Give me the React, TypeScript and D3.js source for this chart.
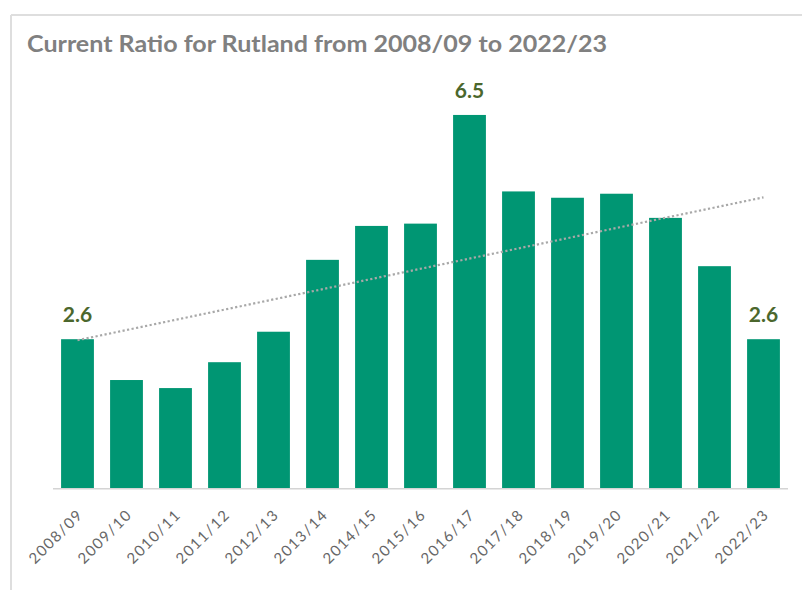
import React from "react";
import * as d3 from "d3";

// Financial years shown on the category axis
const years: string[] = [
  "2008/09", "2009/10", "2010/11", "2011/12", "2012/13",
  "2013/14", "2014/15", "2015/16", "2016/17", "2017/18",
  "2018/19", "2019/20", "2020/21", "2021/22", "2022/23",
];

// Current ratio per year
const ratios: number[] = [
  2.6, 1.89, 1.75, 2.2, 2.73,
  3.98, 4.57, 4.61, 6.5, 5.17,
  5.06, 5.13, 4.71, 3.87, 2.6,
];

// Years whose values get a data label (first, peak, last)
const labelledYears: string[] = ["2008/09", "2016/17", "2022/23"];

const titleText = "Current Ratio for Rutland from 2008/09 to 2022/23";

const W = 802;
const H = 590;
const BAR = "#009673";
const LABEL_GREEN = "#4b672d";
const FONT = "Lato, 'Open Sans', sans-serif";

export default function App() {
  const x = d3
    .scaleBand<string>()
    .domain(years)
    .range([53, 788])
    .paddingInner(0.33)
    .paddingOuter(0.165);

  const y = d3.scaleLinear().domain([0, 7]).range([488.7, 488.7 - 7 * 57.5]);

  // Least-squares linear trend across the year index
  const idx = ratios.map((_, i) => i);
  const mx = d3.mean(idx)!;
  const my = d3.mean(ratios)!;
  const sxy = d3.sum(idx, (i) => (i - mx) * (ratios[i] - my));
  const sxx = d3.sum(idx, (i) => (i - mx) * (i - mx));
  const slope = sxy / sxx;
  const intercept = my - slope * mx;
  const trendPts: [number, number][] = [0, years.length - 1].map((i) => [
    x(years[i])! + x.bandwidth() / 2,
    y(intercept + slope * i),
  ]);
  const trendPath = d3.line()(trendPts)!;

  return (
    <svg
      width={W}
      height={H}
      style={{ position: "absolute", left: 0, top: 0, background: "#fff" }}
      fontFamily={FONT}
    >
      {/* chart frame */}
      <line x1={11} y1={15} x2={W} y2={15} stroke="#dedede" strokeWidth={2} />
      <line x1={11} y1={15} x2={11} y2={H} stroke="#dedede" strokeWidth={2} />

      <text
        x={27}
        y={52}
        fontSize={23}
        fontWeight={700}
        fill="#808080"
        textLength={580}
        lengthAdjust="spacingAndGlyphs"
      >
        {titleText}
      </text>

      {/* bars */}
      {years.map((yr, i) => (
        <rect
          key={yr}
          x={x(yr)}
          y={y(ratios[i])}
          width={x.bandwidth()}
          height={y(0) - y(ratios[i])}
          fill={BAR}
        />
      ))}

      {/* category axis */}
      <line x1={53} x2={788} y1={y(0)} y2={y(0)} stroke="#d4d4d4" strokeWidth={1.5} />
      {years.map((yr) => {
        const cx = x(yr)! + x.bandwidth() / 2 + 5.5;
        const cy = y(0) + 28;
        return (
          <text
            key={yr}
            transform={`translate(${cx},${cy}) rotate(-45)`}
            textAnchor="end"
            fontSize={15}
            fill="#666666"
            textLength={68}
            lengthAdjust="spacing"
          >
            {yr}
          </text>
        );
      })}

      {/* trend line */}
      <path
        d={trendPath}
        fill="none"
        stroke="#a8a8a8"
        strokeWidth={2.2}
        strokeDasharray="2.2 2.4"
      />

      {/* data labels */}
      {years.map((yr, i) =>
        labelledYears.includes(yr) ? (
          <text
            key={yr}
            x={x(yr)! + x.bandwidth() / 2}
            y={y(ratios[i]) - 17}
            textAnchor="middle"
            fontSize={21}
            fontWeight={700}
            fill={LABEL_GREEN}
          >
            {d3.format(".1f")(ratios[i])}
          </text>
        ) : null
      )}
    </svg>
  );
}
